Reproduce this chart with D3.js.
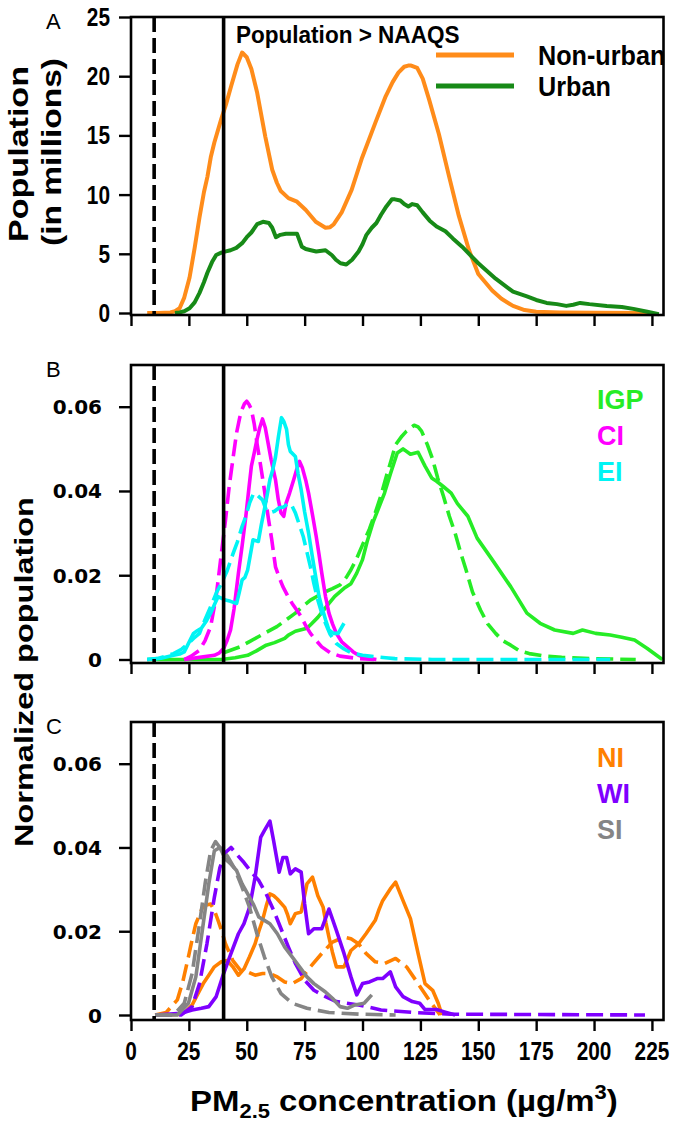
<!DOCTYPE html>
<html><head><meta charset="utf-8">
<script src="https://cdn.jsdelivr.net/npm/d3@7"></script>
<style>body{margin:0;background:#fff}svg{display:block}</style>
</head><body>
<svg id="chart" width="677" height="1127"></svg>
<script>
// ---------------- DATA ----------------
const xTicks = [0, 25, 50, 75, 100, 125, 150, 175, 200, 225];
const yTicksA = [0, 5, 10, 15, 20, 25];
const yTicksBC = [0, 0.02, 0.04, 0.06];
const yTickLabelsBC = ["0", "0.02", "0.04", "0.06"];
const refLines = [10, 40]; // dashed guideline, solid NAAQS

const nonUrban = [[7,0],[12,0],[17,0.05],[19,0.15],[21,0.4],[23,1.3],[25.3,3.0],[27.5,5.5],[29.6,8.1],[31.5,10.2],[33,11.5],[34.5,13.2],[36,14.4],[39,16.4],[41,17.6],[43.3,19.2],[46,21],[48,22.0],[50,21.6],[52,20.6],[54.5,18.6],[56,17],[58,14.9],[61,12.1],[63,11],[64.7,10.3],[68,9.7],[71.7,9.4],[75.5,8.7],[79.8,7.7],[84,7.2],[86,7.25],[87.6,7.5],[91,8.5],[95.3,10.4],[99.6,13],[105.6,16.1],[110,18.3],[113,19.5],[115.5,20.3],[118,20.8],[119.7,20.9],[121,20.9],[123.6,20.7],[126,19.8],[128.8,18],[133,15.1],[137.3,11.6],[141.6,8.2],[146,5.3],[150,3.3],[156,1.9],[160,1.2],[165,0.6],[170,0.25],[175,0.1],[185,0.05],[200,0.03],[224,0]];
const urban = [[19,0],[21,0.05],[23,0.15],[25.3,0.4],[27.5,0.9],[29.6,1.7],[31.5,2.6],[33,3.4],[35,4.3],[36.8,4.9],[39,5.1],[41,5.2],[43,5.3],[45.5,5.5],[48,5.9],[50,6.4],[52,6.8],[54.5,7.5],[57,7.7],[59.6,7.6],[61,7.2],[62.6,6.4],[64.5,6.6],[66.9,6.7],[69,6.7],[71.7,6.7],[73.8,5.6],[75.5,5.4],[77.7,5.3],[80,5.2],[84,5.3],[86.7,4.9],[88.5,4.5],[90.5,4.2],[93,4.1],[95.5,4.5],[98.3,5.2],[100,5.8],[101.7,6.6],[104,7.2],[106,7.6],[108,8.3],[110.3,9.0],[112.7,9.6],[114,9.6],[116.3,9.5],[118,9.2],[119.8,9.0],[121.5,9.2],[123.6,9.1],[126,8.5],[129,7.8],[132,7.3],[135.8,6.9],[139,6.3],[143,5.6],[150,4.2],[157.5,2.9],[165,1.8],[171,1.4],[175,1.1],[179.5,0.85],[184,0.75],[188,0.6],[191,0.7],[194,0.85],[198,0.75],[205.5,0.6],[212,0.5],[217,0.35],[223,0.1],[228,-0.1]];

const igpSolid = [[7,0],[39,0],[45,0.0004],[50.4,0.001],[54,0.002],[58.4,0.0034],[62,0.004],[66.4,0.005],[68,0.0058],[71,0.0067],[76,0.0074],[78,0.0085],[80.7,0.010],[85.5,0.0133],[88,0.015],[92,0.0169],[95,0.018],[97.5,0.0205],[100,0.0237],[102,0.028],[104.7,0.0328],[107,0.036],[109.5,0.0395],[112,0.044],[115,0.049],[117.5,0.050],[120.7,0.0487],[124,0.0492],[127,0.0459],[130,0.043],[132,0.0423],[135,0.041],[138.3,0.0395],[141,0.037],[145.5,0.034],[149.5,0.0288],[156,0.0237],[164,0.0173],[171,0.011],[176.7,0.0086],[183,0.007],[191,0.0062],[195,0.007],[200.7,0.0062],[207,0.0058],[212,0.0053],[217.5,0.0046],[223,0.0026],[229.5,0]];
const igpDashed = [[40,0.0016],[43,0.0022],[47,0.003],[51,0.0042],[55,0.0054],[59,0.0066],[63,0.0078],[67,0.0094],[71,0.011],[74,0.0125],[77.5,0.0141],[81,0.0152],[84,0.0161],[87,0.0168],[90.3,0.0177],[93,0.0195],[95,0.0213],[97.5,0.024],[100,0.0272],[103,0.031],[105.5,0.0348],[108,0.039],[110.3,0.0435],[112.5,0.0475],[114.3,0.051],[117,0.053],[119,0.0542],[122.3,0.0556],[124,0.0552],[125.5,0.0542],[128,0.051],[130.3,0.0475],[132.5,0.043],[135,0.0387],[137.5,0.034],[140,0.030],[142.3,0.0255],[144.7,0.0213],[147.5,0.016],[151,0.0117],[154,0.0085],[157.5,0.0062],[160.5,0.0045],[164,0.0034],[168,0.002],[172,0.0014],[179,0.0008],[186,0.0005],[200,0.0002],[218,0]];
const ciSolid = [[23,0],[29.6,0.0005],[36,0.001],[38,0.0015],[40,0.0026],[41.5,0.0045],[43,0.007],[44.5,0.012],[46.4,0.0205],[48,0.027],[49.6,0.034],[51,0.041],[52,0.0459],[53.2,0.049],[54.4,0.0522],[55.6,0.055],[56.8,0.0571],[58,0.055],[59,0.052],[60.5,0.0475],[62.4,0.0427],[63.6,0.038],[64.8,0.0348],[66,0.034],[67,0.0371],[68.5,0.0395],[70.3,0.0427],[71.5,0.045],[72.8,0.047],[74,0.0455],[75.5,0.0425],[76.7,0.0395],[78.5,0.034],[80,0.0292],[81.2,0.025],[82.4,0.0205],[84,0.015],[85.5,0.011],[87,0.0085],[88.7,0.0062],[91,0.0042],[93.5,0.003],[96,0.0018],[98.3,0.001],[102,0.0003],[106,0]];
const ciDashed = [[23,0],[26,0.0008],[29.6,0.0022],[32,0.0045],[34.4,0.0078],[36.8,0.015],[39,0.025],[40.8,0.033],[42.4,0.041],[44,0.0475],[45.6,0.0538],[47,0.0575],[48,0.0594],[49,0.0607],[50,0.0613],[51,0.0605],[52,0.0594],[53.2,0.056],[54.4,0.0514],[56,0.046],[57.6,0.0403],[59.2,0.034],[60.8,0.0284],[62.4,0.022],[64,0.0195],[65.6,0.0173],[67.6,0.0152],[69.6,0.0133],[71.5,0.0118],[73.5,0.0102],[75.5,0.008],[77.5,0.0062],[80,0.0045],[82.4,0.003],[86,0.0016],[90.3,0.0008],[98.3,0.0002],[105,0]];
const eiSolid = [[7,0],[13,0.0003],[18.4,0.001],[21,0.0013],[23,0.0018],[25,0.004],[27,0.0062],[28.6,0.0068],[30.4,0.0074],[32.4,0.009],[34.4,0.011],[36,0.013],[37.6,0.0149],[39.2,0.0145],[40.8,0.0141],[43,0.0138],[45.6,0.0133],[46.8,0.016],[48,0.0189],[49.2,0.0195],[50.4,0.0213],[51.6,0.025],[52.7,0.0284],[55,0.028],[56.3,0.032],[57.6,0.0356],[58.8,0.039],[60,0.0427],[61.2,0.045],[62.4,0.048],[63.7,0.053],[65,0.0574],[66,0.0565],[67.2,0.0546],[68,0.051],[68.8,0.0494],[71,0.0482],[72.2,0.044],[73.5,0.0403],[75,0.035],[76.7,0.030],[78.3,0.0245],[80,0.0189],[81.2,0.015],[82.4,0.0125],[84,0.0095],[85.5,0.007],[87.5,0.0062],[89.5,0.0062],[92,0.0086]];
const eiDashed = [[7,0],[12,0.0003],[18.4,0.0014],[22,0.0025],[24.8,0.0038],[27,0.005],[29.6,0.0062],[32,0.0095],[34.4,0.0125],[37,0.016],[39,0.018],[41.5,0.021],[44,0.025],[46,0.028],[48,0.0316],[49.6,0.034],[51.2,0.0371],[53,0.0395],[54.5,0.039],[56.8,0.0379],[58.4,0.0355],[60,0.0348],[62,0.0352],[64,0.036],[66,0.0362],[68,0.0371],[69.5,0.0365],[71,0.0348],[72.7,0.032],[74.4,0.0292],[76,0.0255],[77.5,0.022],[79,0.018],[80.7,0.0141],[82.4,0.011],[84,0.0086],[86,0.006],[88.7,0.0038],[92,0.0025],[95,0.0016],[100,0.001],[103,0.0008],[110,0.0004],[114,0.0002],[130,0],[160,0],[207,0]];

const niSolid = [[10.4,0],[16,0],[21.6,0.0002],[24,0.001],[26.4,0.0024],[28.8,0.005],[31.2,0.0075],[33.6,0.0095],[36,0.0115],[39,0.0127],[41.6,0.013],[44,0.0115],[46.4,0.0095],[48.8,0.011],[51.2,0.0139],[53.6,0.017],[55.2,0.02],[56.8,0.0226],[58.4,0.026],[60,0.0289],[61.6,0.0285],[63.2,0.0277],[66.4,0.0257],[67.6,0.024],[68.8,0.0218],[71,0.0242],[73.5,0.0246],[74.8,0.028],[76,0.0313],[78.4,0.0329],[80.7,0.0285],[83,0.0257],[84.2,0.022],[85.5,0.0186],[87,0.015],[88.7,0.0115],[92,0.0115],[95,0.0154],[98.3,0.017],[101.5,0.0194],[105.5,0.0226],[107,0.025],[108.7,0.0273],[112,0.0301],[114.3,0.0317],[117.5,0.0273],[120.7,0.023],[122.3,0.019],[124,0.0147],[127,0.0075],[130.3,0.0059],[132.7,0.0028],[134.3,0]];
const niDashed = [[10.4,0],[15.2,0.0006],[20,0.0036],[22.4,0.008],[24.8,0.0139],[26.4,0.018],[28,0.0218],[31.2,0.0261],[34.4,0.0265],[36,0.025],[37.6,0.0226],[39.2,0.02],[40.8,0.017],[44,0.013],[47.2,0.0107],[50.4,0.0103],[53.6,0.0095],[56.8,0.0099],[60,0.0099],[63.2,0.0091],[66.4,0.0079],[69.6,0.0075],[73.5,0.0087],[77.5,0.0115],[82.4,0.0147],[87,0.0174],[92,0.0186],[95,0.0182],[98.3,0.017],[101.5,0.0147],[105.5,0.0127],[109.5,0.0123],[114.3,0.0135],[119,0.0115],[124,0.0075],[128.7,0.0036],[133.5,0]];
const wiSolid = [[10.4,0],[21.6,0.0004],[26.4,0.0012],[30.4,0.0016],[33.6,0.002],[36.8,0.0044],[40,0.0099],[43.2,0.0147],[46.4,0.0194],[48.8,0.0218],[51.2,0.0257],[53.6,0.0329],[56,0.0424],[57.6,0.044],[60,0.0463],[61.6,0.0416],[64,0.0341],[65.6,0.0376],[67.2,0.0376],[68.8,0.0337],[71,0.0349],[73.5,0.0341],[75,0.0265],[76.7,0.0194],[79,0.0206],[82.4,0.0206],[85.5,0.0253],[88.7,0.0202],[92,0.0147],[95,0.0091],[97.5,0.0048],[100,0.0075],[103,0.0079],[106.3,0.0087],[108.7,0.0087],[112,0.0103],[114.3,0.0067],[117.5,0.0044],[121.5,0.0032],[124.7,0.0028],[127,0.0013],[132,0.0013],[135,0.0008],[140,0]];
const wiDashed = [[10.4,0],[21.6,0],[26.4,0.002],[29.6,0.0075],[32.8,0.017],[36,0.0281],[38.4,0.0352],[40.8,0.0388],[43.2,0.04],[45.6,0.0384],[48.8,0.0364],[52,0.0341],[55.2,0.0321],[58.4,0.0289],[61.6,0.025],[64.8,0.0206],[68,0.0162],[71,0.0123],[75,0.0083],[79,0.0059],[84,0.0044],[88.7,0.0032],[98.3,0.0024],[108,0.0012],[122,0.0006],[138,0.0002],[222,0]];
const siSolid = [[10.4,0],[20,0],[24.8,0.0028],[28,0.0091],[31.2,0.0218],[33.6,0.0313],[36,0.0392],[38.4,0.04],[40.8,0.0372],[43.2,0.036],[45.6,0.0345],[48,0.0313],[50.4,0.0289],[52.8,0.0265],[55.2,0.0234],[57.6,0.0226],[60,0.0218],[63.2,0.0194],[66.4,0.0162],[69.6,0.0139],[72.8,0.0115],[76,0.0091],[79,0.0075],[84,0.0055],[87,0.004],[90.3,0.002],[93.5,0.0016],[96.7,0.0024],[100.7,0.0028],[104,0.0048]];
const siDashed = [[10.4,0],[18.4,0],[23,0.0028],[26.4,0.0099],[29.6,0.0218],[32,0.0313],[34.4,0.0392],[36.5,0.0414],[38.4,0.04],[41.6,0.038],[44.8,0.0349],[48,0.0305],[51.2,0.0257],[54.4,0.0194],[57.6,0.0139],[60.8,0.0091],[64.8,0.0051],[69.6,0.0028],[76,0.0016],[85.5,0.0006],[98.3,0.0002],[114.3,0]];

const seriesA = [
  {name:"Non-urban", data:nonUrban, color:"#ff8c1a"},
  {name:"Urban", data:urban, color:"#178a17"}
];
const seriesB = [
  {name:"IGP", color:"#26ec26", solid:igpSolid, dashed:igpDashed},
  {name:"CI", color:"#ff00ff", solid:ciSolid, dashed:ciDashed},
  {name:"EI", color:"#00f4f4", solid:eiSolid, dashed:eiDashed}
];
const seriesC = [
  {name:"NI", color:"#ff8000", solid:niSolid, dashed:niDashed},
  {name:"WI", color:"#7f00ff", solid:wiSolid, dashed:wiDashed},
  {name:"SI", color:"#858585", solid:siSolid, dashed:siDashed}
];

// ---------------- LAYOUT ----------------
const svg = d3.select("#chart");
const X0 = 131, X1 = 663.5;
const x = d3.scaleLinear().domain([0, 230]).range([X0, X1]);
const panels = [
  {key:"A", top:17, bottom:315, y:d3.scaleLinear().domain([0,25]).range([313,17])},
  {key:"B", top:365, bottom:663, y:d3.scaleLinear().domain([0,0.06]).range([659.5,406.7])},
  {key:"C", top:722, bottom:1020, y:d3.scaleLinear().domain([0,0.06]).range([1015,763.7])}
];
const F = "'Liberation Sans', Arial, sans-serif";
const NARROW = 0.8; // horizontal squeeze for condensed-looking labels

function drawLine(g, data, y, color, width, dashed) {
  const line = d3.line().x(d => x(d[0])).y(d => y(d[1]));
  g.append("path").attr("d", line(data)).attr("fill","none")
    .attr("stroke", color).attr("stroke-width", width)
    .attr("stroke-linejoin","round")
    .attr("stroke-dasharray", dashed ? "17,7" : null);
}
function narrowText(parent, ax, ay, str, size, anchor, sx) {
  const g = parent.append("g").attr("transform", `translate(${ax},${ay}) scale(${sx},1)`);
  return g.append("text").attr("x",0).attr("y",0).attr("text-anchor", anchor)
    .attr("font-family", F).attr("font-weight","bold").attr("font-size", size)
    .attr("fill","#000").text(str);
}

panels.forEach((p) => {
  const g = svg.append("g");
  if (p.key === "A") {
    seriesA.forEach(s => drawLine(g, s.data, p.y, s.color, 4, false));
  } else {
    const ser = p.key === "B" ? seriesB : seriesC;
    ser.forEach(s => {
      drawLine(g, s.solid, p.y, s.color, 3.6, false);
      drawLine(g, s.dashed, p.y, s.color, 3.6, true);
    });
  }
  g.append("line").attr("x1", x(refLines[0])).attr("x2", x(refLines[0]))
    .attr("y1", p.top).attr("y2", p.bottom).attr("stroke","#000")
    .attr("stroke-width",3.6).attr("stroke-dasharray","15,6");
  g.append("line").attr("x1", x(refLines[1])).attr("x2", x(refLines[1]))
    .attr("y1", p.top).attr("y2", p.bottom).attr("stroke","#000")
    .attr("stroke-width",3.6);
  g.append("rect").attr("x", X0).attr("y", p.top).attr("width", X1-X0)
    .attr("height", p.bottom-p.top).attr("fill","none").attr("stroke","#000").attr("stroke-width",2.6);

  const xa = g.append("g").attr("transform", `translate(0,${p.bottom})`)
    .call(d3.axisBottom(x).tickValues(xTicks).tickSize(11).tickFormat(() => ""));
  xa.select(".domain").remove();
  xa.selectAll(".tick line").attr("stroke","#000").attr("stroke-width",2.4);
  if (p.key === "C") {
    xTicks.forEach(t => narrowText(g, x(t), 1060, String(t), 26, "middle", NARROW));
  }

  const ticks = p.key === "A" ? yTicksA : yTicksBC;
  const ya = g.append("g").attr("transform", `translate(${X0},0)`)
    .call(d3.axisLeft(p.y).tickValues(ticks).tickSize(12).tickFormat(() => ""));
  ya.select(".domain").remove();
  ya.selectAll(".tick line").attr("stroke","#000").attr("stroke-width",2.4);
  if (p.key === "A") {
    yTicksA.forEach(t => narrowText(g, 110, p.y(t) + 9, String(t), 26, "end", NARROW));
  } else {
    yTicksBC.forEach((t, j) => g.append("text").attr("x", 102).attr("y", p.y(t) + 7.5)
      .attr("text-anchor","end").attr("font-family","'DejaVu Sans', sans-serif")
      .attr("font-weight","bold").attr("font-size",20).attr("fill","#000").text(yTickLabelsBC[j]));
  }
  svg.append("text").attr("x", 46).attr("y", p.top + 12).text(p.key)
    .attr("font-family", F).attr("font-size", 22).attr("fill","#000");
});

narrowText(svg, 236, 43, "Population > NAAQS", 23, "start", 0.98);
seriesA.forEach((s, i) => {
  const yy = 55 + i * 31;
  svg.append("line").attr("x1", 436).attr("x2", 514).attr("y1", yy).attr("y2", yy)
    .attr("stroke", s.color).attr("stroke-width", 5);
  narrowText(svg, 538, yy + 10, s.name, 28, "start", 0.9);
});

function regionLabels(ser, baseY) {
  ser.forEach((s, i) => {
    svg.append("text").attr("x", 597).attr("y", baseY + i * 36).text(s.name)
      .attr("font-family", F).attr("font-weight","bold").attr("font-size", 27)
      .attr("fill", s.color);
  });
}
regionLabels(seriesB, 409);
regionLabels(seriesC, 767);

function rotTitle(cx, cy, str, size, len) {
  const t = svg.append("text").attr("text-anchor","middle")
    .attr("font-family", F).attr("font-weight","bold").attr("font-size", size).text(str);
  const w = t.node().getComputedTextLength();
  t.attr("transform", `translate(${cx},${cy}) rotate(-90) scale(${len / w},1)`);
}
rotTitle(28, 154, "Population", 27, 176);
rotTitle(61, 152, "(in millions)", 27, 188);
rotTitle(33, 672, "Normalized population", 25, 350);

const xg = svg.append("g");
const xt = xg.append("text").attr("x", 0).attr("y", 0)
  .attr("font-family", F).attr("font-weight","bold").attr("font-size", 30);
xt.append("tspan").text("PM");
xt.append("tspan").attr("font-size", 20).attr("dy", 7).text("2.5");
xt.append("tspan").attr("dy", -7).text(" concentration (µg/m");
xt.append("tspan").attr("font-size", 20).attr("dy", -12).text("3");
xt.append("tspan").attr("dy", 12).text(")");
const xw = xt.node().getBBox().width;
xg.attr("transform", `translate(190,1111) scale(${428 / xw},1)`);
</script>
</body></html>
